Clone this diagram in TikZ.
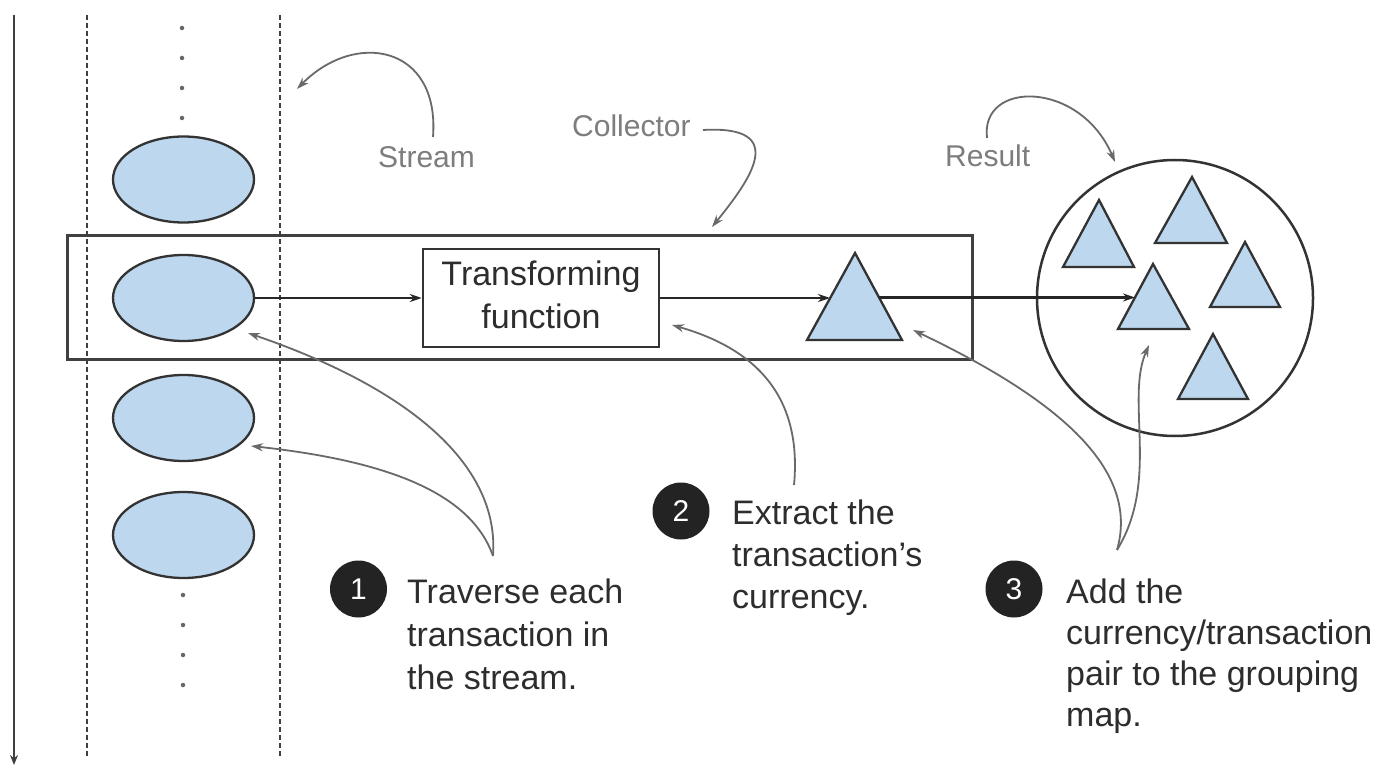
\documentclass[tikz,border=0pt]{standalone}
\usepackage{fontspec}
\setmainfont{Liberation Sans}
\usetikzlibrary{arrows.meta,shapes.geometric}
\definecolor{fillblue}{RGB}{189,215,238}
\definecolor{labelgray}{RGB}{125,125,125}
\definecolor{curvegray}{RGB}{105,105,105}
\definecolor{txtgray}{RGB}{45,45,45}
\definecolor{badgeblack}{RGB}{35,35,35}
\begin{document}
\begin{tikzpicture}[x=1pt,y=-1pt,
  blob/.style={ellipse,draw=black!80,line width=2.3pt,fill=fillblue,minimum width=141pt,minimum height=86pt,inner sep=0pt},
  tri/.style={draw=black!80,line width=2.3pt,fill=fillblue,line join=miter},
  flow/.style={draw=black!85,line width=2.5pt,-{Stealth[length=12pt,width=8pt]}},
  callout/.style={draw=curvegray,line width=1.8pt,-{Stealth[length=12pt,width=8pt]}},
  lbl/.style={text=labelgray,font=\fontsize{30}{36}\selectfont,inner sep=0pt,anchor=base west},
  body/.style={text=txtgray,font=\fontsize{34}{41}\selectfont,inner sep=0pt,anchor=base west},
  boxtxt/.style={text=txtgray,font=\fontsize{34}{41}\selectfont,inner sep=0pt,anchor=base},
  badge/.style={circle,fill=badgeblack,minimum size=57pt,inner sep=0pt,text=white,font=\fontsize{30}{30}\selectfont},
  dotmark/.style={circle,fill=black!60,minimum size=4.5pt,inner sep=0pt},
  sepline/.style={draw=black!75,line width=2.5pt,dash pattern=on 5pt off 3pt}]
\useasboundingbox (0,0) rectangle (1394,767);
\fill[white] (0,0) rectangle (1394,767);

% time axis
\coordinate (axtop) at (14,15);
\coordinate (axbot) at (14,765);
\draw[black!75,line width=2.5pt,-{Stealth[length=10pt,width=8pt]}] (axtop) -- (axbot);

% stream boundaries
\coordinate (d1t) at (87,15);  \coordinate (d1b) at (87,757);
\coordinate (d2t) at (280,15); \coordinate (d2b) at (280,757);
\draw[sepline] (d1t) -- (d1b);
\draw[sepline] (d2t) -- (d2b);

% dots
\node[dotmark] (dt1) at (182,28) {};
\node[dotmark] (dt2) at (182,58) {};
\node[dotmark] (dt3) at (182,88) {};
\node[dotmark] (dt4) at (182,118) {};
\node[dotmark] (db1) at (183,595) {};
\node[dotmark] (db2) at (183,625) {};
\node[dotmark] (db3) at (183,655) {};
\node[dotmark] (db4) at (183,685) {};

% stream elements
\node[blob] (e1) at (183.5,179.5) {};
\node[blob] (e2) at (183.5,298) {};
\node[blob] (e3) at (183.5,418) {};
\node[blob] (e4) at (183.5,535) {};

% collector
\node[draw=black!75,line width=3pt,minimum width=905pt,minimum height=123pt,inner sep=0pt] (coll) at (519.5,297.5) {};
\node[draw=black!80,line width=2.5pt,minimum width=236pt,minimum height=98pt,inner sep=0pt] (tf) at (541,298) {};
\node[boxtxt] (tfa) at (541,286) {Transforming};
\node[boxtxt] (tfb) at (541,328) {function};

% collector triangle
\draw[tri] (807,340) -- (855,253) -- (902,340) -- cycle;
\coordinate (ctriL) at (830,298);
\coordinate (ctriR) at (879,297.5);

% result
\node[circle,draw=black!80,line width=2.5pt,minimum size=276pt,inner sep=0pt] (res) at (1175,298) {};
\draw[tri] (1063,267) -- (1099,200) -- (1134,267) -- cycle;
\draw[tri] (1155,243) -- (1192,177) -- (1227,243) -- cycle;
\draw[tri] (1118,329) -- (1153,264) -- (1189,329) -- cycle;
\draw[tri] (1210,307) -- (1245,242) -- (1280,307) -- cycle;
\draw[tri] (1178,399) -- (1213,334) -- (1248,399) -- cycle;
\coordinate (rtriL) at (1135,297.5);

% flow arrows
\draw[flow] (e2.east) -- (tf.west);
\draw[flow] (tf.east) -- (ctriL);
\draw[flow] (ctriR) -- (rtriL);

% labels
\node[lbl] (lstream) at (378,168) {Stream};
\node[lbl] (lcoll) at (572,137) {Collector};
\node[lbl] (lres) at (945,167) {Result};
\coordinate (sA) at (433,137); \coordinate (sB) at (297,89);
\draw[callout] (sA) .. controls (440,45) and (355,30) .. (sB);
\coordinate (cA) at (703,130); \coordinate (cB) at (712,227);
\draw[callout] (cA) .. controls (790,125) and (750,180) .. (cB);
\coordinate (rA) at (987,138); \coordinate (rB) at (1115,162);
\draw[callout] (rA) .. controls (980,80) and (1080,80) .. (rB);

% callout 1
\node[badge] (n1) at (358.5,589) {1};
\node[body] (t1a) at (407,603) {Traverse each};
\node[body] (t1b) at (407,646) {transaction in};
\node[body] (t1c) at (407,689) {the stream.};
\coordinate (k1) at (493,556);
\coordinate (k1a) at (248,333);
\coordinate (k1b) at (251,446);
\draw[callout] (k1) .. controls (500,460) and (400,385) .. (k1a);
\draw[callout] (k1) .. controls (470,490) and (380,460) .. (k1b);

% callout 2
\node[badge] (n2) at (681,511) {2};
\node[body] (t2a) at (732,524) {Extract the};
\node[body] (t2b) at (732,566) {transaction's};
\node[body] (t2c) at (732,608) {currency.};
\coordinate (k2) at (794,485);
\coordinate (k2a) at (672,325);
\draw[callout] (k2) .. controls (802,400) and (760,350) .. (k2a);

% callout 3
\node[badge] (n3) at (1014,589) {3};
\node[body] (t3a) at (1066,603) {Add the};
\node[body] (t3b) at (1066,644) {currency/transaction};
\node[body] (t3c) at (1066,685) {pair to the grouping};
\node[body] (t3d) at (1066,726) {map.};
\coordinate (k3) at (1117,550);
\coordinate (k3a) at (913,330);
\coordinate (k3b) at (1149,345);
\draw[callout] (k3) .. controls (1140,470) and (1060,400) .. (k3a);
\draw[callout] (k3) .. controls (1160,480) and (1125,400) .. (k3b);
\end{tikzpicture}
\end{document}
